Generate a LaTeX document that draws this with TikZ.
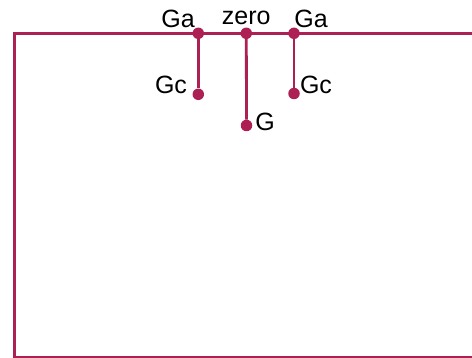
\documentclass[tikz,border=0pt]{standalone}
\usepackage{fontspec}
\setmainfont{Liberation Sans}
\definecolor{wire}{RGB}{173,32,84}
\begin{document}
\begin{tikzpicture}[x=1pt,y=-1pt,
  wireline/.style={draw=wire,line width=2.8pt},
  dot/.style={circle,fill=wire,inner sep=0pt,minimum size=11.5pt},
  lbl/.style={inner sep=0pt,anchor=base,font=\fontsize{25}{25}\selectfont}]
\useasboundingbox (0,0) rectangle (472,358);
\clip (0,0) rectangle (472,358);
\coordinate (tl) at (14.7,33.3);
\coordinate (br) at (490,357);
\draw[wireline] (br |- tl) -- (tl) -- (tl |- br) -- (br);
\node[dot] (ga1) at (198.3,33.3) {};
\node[dot] (z) at (246.3,33.3) {};
\node[dot] (ga2) at (294,33.3) {};
\node[dot] (gc1) at (198.3,94.3) {};
\node[dot] (g) at (246.5,125.5) {};
\node[dot] (gc2) at (294,93.5) {};
\draw[wireline] (ga1) -- (gc1);
\draw[wireline] (z) -- (g);
\draw[wireline] (ga2) -- (gc2);
\node[lbl] (lga1) at (178,27.3) {Ga};
\node[lbl] (lz) at (246.3,25) {zero};
\node[lbl] (lga2) at (311,27.3) {Ga};
\node[lbl] (lgc1) at (171,93.3) {Gc};
\node[lbl] (lgc2) at (316,93.3) {Gc};
\node[lbl] (lg) at (265,130.7) {G};
\end{tikzpicture}
\end{document}
